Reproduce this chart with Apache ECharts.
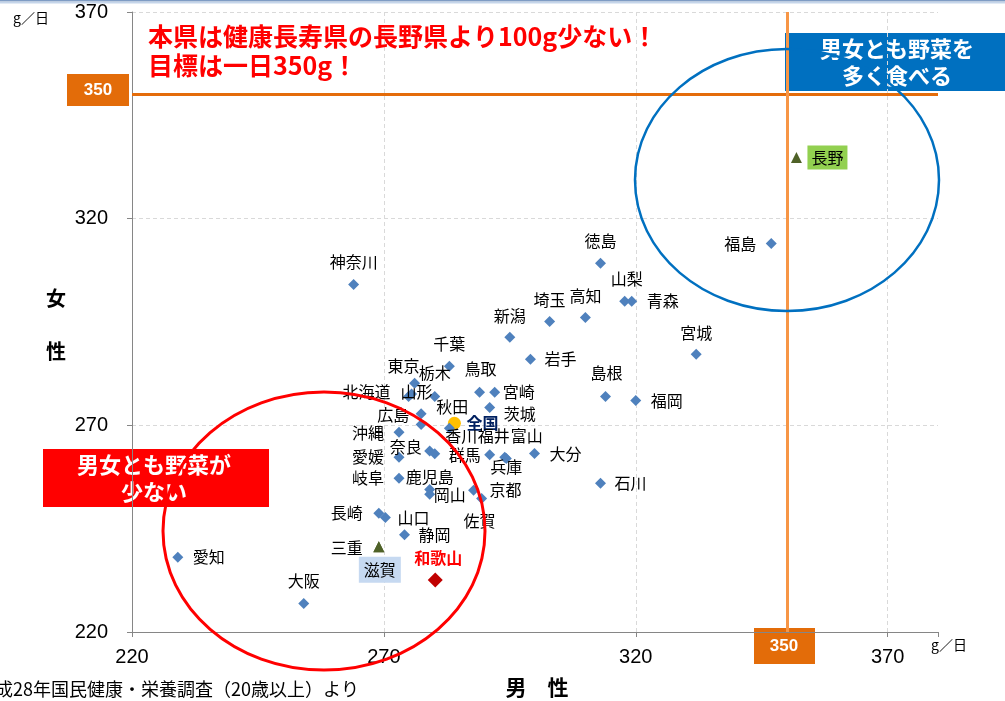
<!DOCTYPE html>
<html>
<head>
<meta charset="utf-8">
<script src="https://cdn.jsdelivr.net/npm/echarts@6/dist/echarts.min.js"></script>
<style>
  html, body { margin: 0; padding: 0; background: #fff; }
  #chart { width: 1005px; height: 701px; }
</style>
</head>
<body>
<div id="chart"></div>
<script>
// prefecture names, male / female vegetable intake (g/day)
var prefectures = [
    '神奈川', '千葉', '新潟', '埼玉', '高知', '徳島', '山梨', '青森', '宮城', '福島',
    '長野', '岩手', '島根', '福岡', '大分', '石川', '宮崎', '鳥取', '茨城', '東京',
    '栃木', '北海道', '山形', '広島', '秋田', '沖縄', '全国', '香川', '福井', '富山',
    '兵庫', '奈良', '群馬', '愛媛', '岐阜', '鹿児島', '岡山', '京都', '佐賀', '長崎',
    '山口', '静岡', '三重', '滋賀', '和歌山', '愛知', '大阪'
];
var maleIntake = [
    264.0, 283.0, 295.0, 302.9, 310.0, 313.0, 317.8, 319.2, 332.0, 346.9,
    351.9, 299.1, 314.0, 320.0, 299.9, 313.0, 292.0, 289.0, 291.0, 276.1,
    280.1, 274.9, 275.5, 277.4, 277.4, 273.0, 284.0, 283.0, 291.0, 294.0,
    294.3, 279.1, 280.1, 273.0, 273.0, 279.1, 279.1, 287.8, 289.4, 269.0,
    270.3, 274.1, 269.0, 269.0, 280.2, 229.1, 254.1
];
var femaleIntake = [
    304.1, 284.3, 291.3, 295.1, 296.1, 309.2, 300.0, 300.0, 287.2, 314.0,
    334.8, 286.0, 277.0, 276.0, 263.2, 256.0, 278.0, 278.0, 274.3, 280.2,
    277.0, 277.0, 277.6, 272.8, 270.2, 268.3, 270.5, 269.3, 262.9, 262.3,
    262.0, 263.8, 263.1, 262.3, 257.2, 254.5, 253.3, 254.3, 252.3, 248.7,
    247.7, 243.5, 240.6, 240.6, 232.6, 238.1, 226.9
];
var targetIntake = 350;

// label placement (label centre relative to marker, px)
var labelOffsets = {
    '神奈川': [0, -22], '千葉': [0, -22], '新潟': [0, -21], '埼玉': [0, -22], '高知': [0, -22],
    '徳島': [0, -22], '山梨': [2, -22], '青森': [31, 0], '宮城': [0, -21], '福島': [-31, 0],
    '長野': [31, 0], '岩手': [30, 0], '島根': [1, -23], '福岡': [31, 0], '大分': [31, 0],
    '石川': [30, 0], '宮崎': [24, 0], '鳥取': [1, -23], '茨城': [30, 6], '東京': [-11, -17],
    '栃木': [0, -23], '北海道': [-42, -4], '山形': [5, -2], '広島': [-28, 1], '秋田': [31, -18],
    '沖縄': [-31, 1], '全国': [28, 0], '香川': [12, 8], '福井': [4, -19], '富山': [22, -21],
    '兵庫': [0, 9], '奈良': [-24, -4], '群馬': [30, 1], '愛媛': [-31, 0], '岐阜': [-31, 0],
    '鹿児島': [0, -12], '岡山': [20, 1], '京都': [32, 0], '佐賀': [-2, 22], '長崎': [-32, 0],
    '山口': [28, 0], '静岡': [30, 0], '三重': [-32, 1], '滋賀': [1, 23], '和歌山': [3, -22],
    '愛知': [31, 0], '大阪': [0, -23]
};

var FONT = "'Noto Sans CJK JP', sans-serif";
var NUM_FONT = "'Liberation Sans', Arial, sans-serif";

function buildPoints() {
    var pts = [];
    for (var i = 0; i < prefectures.length; i++) {
        var name = prefectures[i];
        var item = {
            name: name,
            value: [maleIntake[i], femaleIntake[i]],
            label: { offset: labelOffsets[name] || [28, 0] }
        };
        if (name === '全国') {
            item.symbol = 'circle';
            item.symbolSize = 13;
            item.itemStyle = { color: '#FFC000' };
            item.label.color = '#002060';
            item.label.fontWeight = 'bold';
        } else if (name === '和歌山') {
            item.symbolSize = 15;
            item.itemStyle = { color: '#C00000' };
            item.label.color = '#FF0000';
            item.label.fontWeight = 'bold';
        } else if (name === '長野') {
            item.symbol = 'triangle';
            item.symbolSize = 11;
            item.itemStyle = { color: '#4F6228' };
            item.label.backgroundColor = '#92D050';
            item.label.padding = [4, 4, 4, 4];
        } else if (name === '三重' || name === '滋賀') {
            item.symbol = 'triangle';
            item.symbolSize = 11;
            item.itemStyle = { color: '#4F6228' };
            if (name === '滋賀') {
                item.label.backgroundColor = '#C6D9F1';
                item.label.padding = [5, 5, 5, 5];
            }
        }
        pts.push(item);
    }
    return pts;
}

var chart = echarts.init(document.getElementById('chart'), null, { renderer: 'canvas' });

chart.setOption({
    backgroundColor: '#ffffff',
    animation: false,
    grid: {
        left: 132, top: 12, right: 67, bottom: 69,
        containLabel: false,
        outerBoundsMode: 'none'
    },
    xAxis: {
        type: 'value',
        min: 220,
        max: 380,
        interval: 50,
        axisLine: { show: true, lineStyle: { color: '#868686', width: 1 } },
        axisTick: { show: true, length: 5, lineStyle: { color: '#868686' } },
        axisLabel: {
            margin: 15,
            color: '#000',
            fontSize: 20,
            fontFamily: NUM_FONT,
            formatter: function (v) { return v > 370 ? '' : v; }
        },
        splitLine: {
            show: true,
            showMinLine: false,
            showMaxLine: false,
            lineStyle: { color: '#D9D9D9', type: [4, 3], width: 1 }
        }
    },
    yAxis: {
        type: 'value',
        min: 220,
        max: 370,
        interval: 50,
        axisLine: { show: true, lineStyle: { color: '#868686', width: 1 } },
        axisTick: { show: true, length: 5, lineStyle: { color: '#868686' } },
        axisLabel: {
            margin: 24,
            color: '#000',
            fontSize: 20,
            fontFamily: NUM_FONT
        },
        splitLine: {
            show: true,
            showMinLine: false,
            lineStyle: { color: '#D9D9D9', type: [4, 3], width: 1 }
        }
    },
    series: [{
        type: 'scatter',
        symbol: 'diamond',
        symbolSize: 11,
        itemStyle: { color: '#4F81BD', opacity: 1 },
        label: {
            show: true,
            position: 'inside',
            formatter: '{b}',
            color: '#000',
            fontSize: 16,
            fontFamily: FONT
        },
        emphasis: { disabled: true },
        data: buildPoints(),
        z: 3,
        markLine: {
            silent: true,
            symbol: 'none',
            label: { show: false },
            z: 2,
            data: [
                { yAxis: targetIntake, lineStyle: { color: '#E46C0A', width: 3, type: 'solid' } },
                { xAxis: targetIntake, lineStyle: { color: '#F79646', width: 3, type: 'solid' } }
            ]
        }
    }],
    graphic: [
        // top frame lines
        { type: 'rect', shape: { x: 0, y: 0, width: 1005, height: 1.5 }, style: { fill: '#7F9CC4' }, z: 50 },
        { type: 'rect', shape: { x: 0, y: 2, width: 1005, height: 1.5 }, style: { fill: '#C5D5EA' }, z: 50 },
        // ellipses
        {
            type: 'ellipse', shape: { cx: 787, cy: 180, rx: 152, ry: 131 },
            style: { fill: 'none', stroke: '#0070C0', lineWidth: 2.5 }, z: 60
        },
        {
            type: 'ellipse', shape: { cx: 324, cy: 531, rx: 161, ry: 139 },
            style: { fill: 'none', stroke: '#FF0000', lineWidth: 3 }, z: 60
        },
        // headline
        {
            type: 'text', left: 148, top: 22, z: 70,
            style: {
                text: '本県は健康長寿県の長野県より100g少ない！\n目標は一日350g！',
                fill: '#FF0000', font: 'bold 25px ' + FONT, lineHeight: 29
            }
        },
        // blue box
        {
            type: 'group', left: 785, top: 33, z: 80,
            children: [
                { type: 'rect', shape: { x: 0, y: 0, width: 220, height: 58 }, style: { fill: '#0070C0' } },
                {
                    type: 'text', x: 112, y: 29,
                    style: {
                        text: '男女とも野菜を\n多く食べる', fill: '#fff', font: 'bold 22px ' + FONT,
                        align: 'center', verticalAlign: 'middle', lineHeight: 27
                    }
                }
            ]
        },
        // red box
        {
            type: 'group', left: 43, top: 449, z: 80,
            children: [
                { type: 'rect', shape: { x: 0, y: 0, width: 226, height: 58 }, style: { fill: '#FF0000' } },
                {
                    type: 'text', x: 111, y: 29,
                    style: {
                        text: '男女とも野菜が\n少ない', fill: '#fff', font: 'bold 22px ' + FONT,
                        align: 'center', verticalAlign: 'middle', lineHeight: 27
                    }
                }
            ]
        },
        // 350 boxes
        {
            type: 'group', left: 67, top: 74, z: 80,
            children: [
                { type: 'rect', shape: { x: 0, y: 0, width: 62, height: 32 }, style: { fill: '#E36C09' } },
                {
                    type: 'text', x: 31, y: 16,
                    style: { text: '350', fill: '#fff', font: 'bold 17px ' + NUM_FONT, align: 'center', verticalAlign: 'middle' }
                }
            ]
        },
        {
            type: 'group', left: 754, top: 628, z: 80,
            children: [
                { type: 'rect', shape: { x: 0, y: 0, width: 61, height: 36 }, style: { fill: '#E36C09' } },
                {
                    type: 'text', x: 30, y: 18,
                    style: { text: '350', fill: '#fff', font: 'bold 17px ' + NUM_FONT, align: 'center', verticalAlign: 'middle' }
                }
            ]
        },
        // unit labels
        {
            type: 'text', left: 13, top: 11, z: 70,
            style: { text: 'g／日', fill: '#000', font: '14px ' + FONT }
        },
        {
            type: 'text', left: 931, top: 638, z: 70,
            style: { text: 'g／日', fill: '#000', font: '14px ' + FONT }
        },
        // axis names
        {
            type: 'text', x: 56, y: 298, z: 70,
            style: { text: '女', fill: '#000', font: 'bold 20px ' + FONT, align: 'center', verticalAlign: 'middle' }
        },
        {
            type: 'text', x: 56, y: 351, z: 70,
            style: { text: '性', fill: '#000', font: 'bold 20px ' + FONT, align: 'center', verticalAlign: 'middle' }
        },
        {
            type: 'text', x: 537, y: 687, z: 70,
            style: { text: '男　性', fill: '#000', font: 'bold 21px ' + FONT, align: 'center', verticalAlign: 'middle' }
        },
        // source note
        {
            type: 'text', x: 359, y: 689, z: 70,
            style: {
                text: '平成28年国民健康・栄養調査（20歳以上）より', fill: '#000',
                font: '18px ' + FONT, align: 'right', verticalAlign: 'middle'
            }
        }
    ]
});
</script>
</body>
</html>
